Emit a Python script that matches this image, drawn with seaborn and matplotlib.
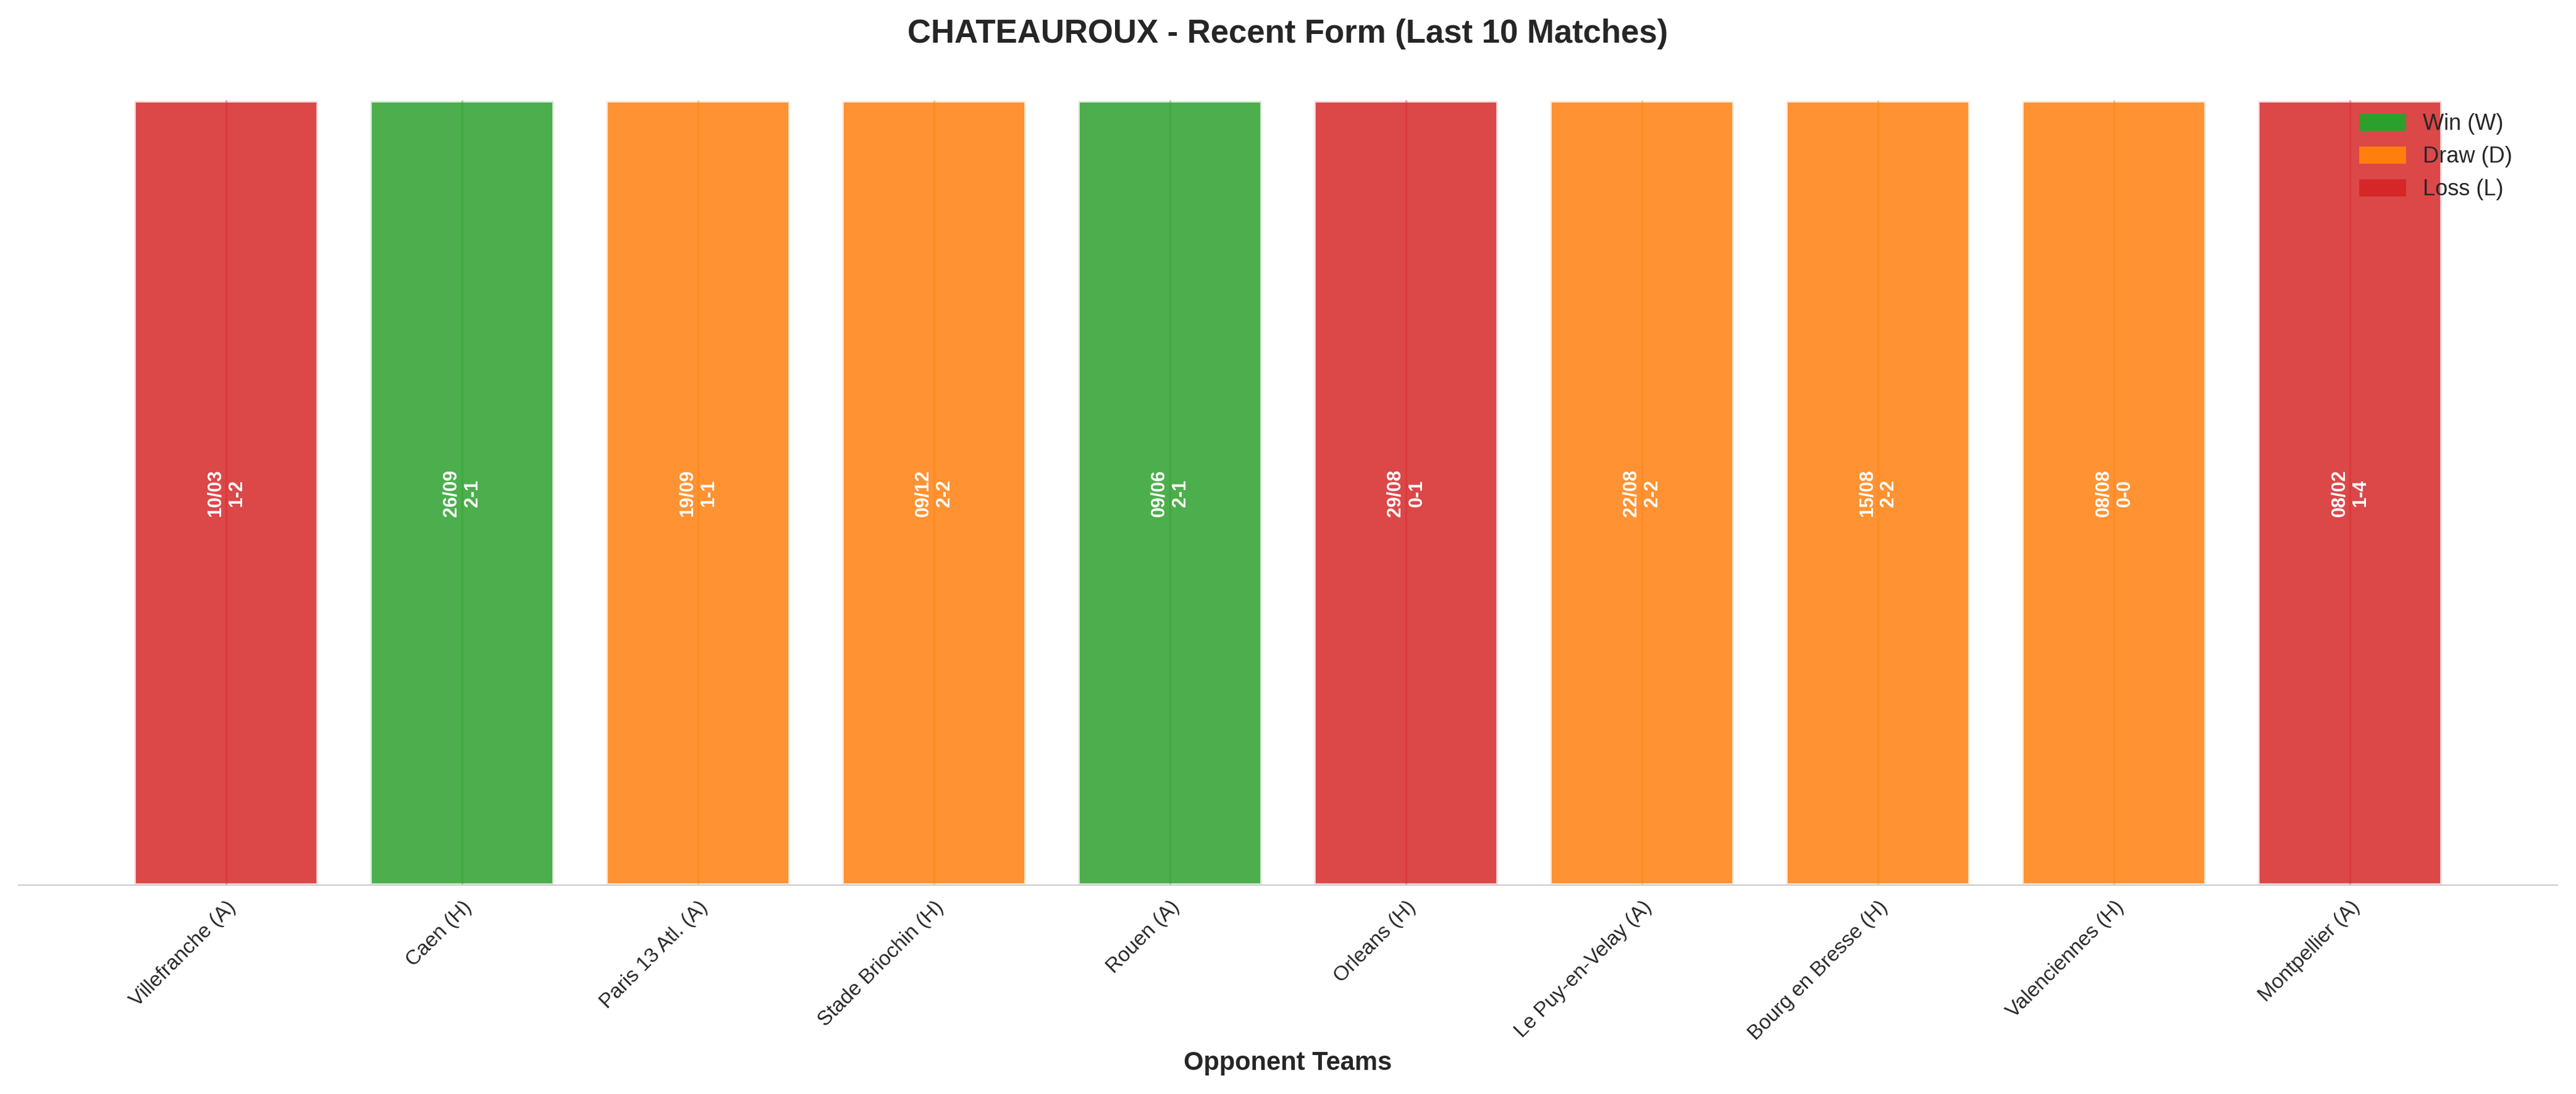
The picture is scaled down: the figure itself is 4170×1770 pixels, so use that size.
import pandas as pd
import seaborn as sns
import matplotlib.pyplot as plt

opponents = ["Villefranche (A)", "Caen (H)", "Paris 13 Atl. (A)", "Stade Briochin (H)", "Rouen (A)",
             "Orleans (H)", "Le Puy-en-Velay (A)", "Bourg en Bresse (H)", "Valenciennes (H)", "Montpellier (A)"]
results = ["L", "W", "D", "D", "W", "L", "D", "D", "D", "L"]
dates = ["10/03", "26/09", "19/09", "09/12", "09/06", "29/08", "22/08", "15/08", "08/08", "08/02"]
scores = ["1-2", "2-1", "1-1", "2-2", "2-1", "0-1", "2-2", "2-2", "0-0", "1-4"]
heights = [1] * 10

colors = {"W": "#2ca02c", "D": "#ff7f0e", "L": "#d62728"}
labels = {"W": "Win (W)", "D": "Draw (D)", "L": "Loss (L)"}

df = pd.DataFrame({"opponent": opponents, "result": results, "h": heights})

sns.set_style("white")
plt.rcParams['font.family'] = ['Arial', 'Liberation Sans', 'DejaVu Sans']

fig, ax = plt.subplots(figsize=(20.85, 8.85), dpi=200)
sns.barplot(data=df, x="opponent", y="h", hue="result", palette=colors, dodge=False, saturation=1,
            alpha=0.85, edgecolor="white", linewidth=2, ax=ax, legend=False, width=0.78)

bars = [p for p in ax.patches if p.get_height() > 0]
bars.sort(key=lambda p: p.get_x())
for p, r, d, s in zip(bars, results, dates, scores):
    cx = p.get_x() + p.get_width() / 2
    ax.plot([cx, cx], [0, p.get_height()], color=colors[r], lw=1.2, alpha=0.35)
    ax.text(cx, p.get_height() / 2, f"{d}\n{s}", rotation=90, ha="center", va="center",
            color="white", fontsize=11, fontweight="bold")

handles = [plt.Rectangle((0, 0), 1, 1, color=colors[k]) for k in ["W", "D", "L"]]
ax.legend(handles, [labels[k] for k in ["W", "D", "L"]], loc="upper right", frameon=False,
          fontsize=13, bbox_to_anchor=(0.99, 0.98))

ax.set_ylim(0, 1.03)
ax.set_yticks([])
ax.set_ylabel("")
ax.set_xlabel("Opponent Teams", fontsize=15, fontweight="bold")
ax.set_title("CHATEAUROUX - Recent Form (Last 10 Matches)", fontsize=19, fontweight="bold", pad=20)
plt.setp(ax.get_xticklabels(), rotation=45, ha="right", rotation_mode="anchor", fontsize=12)
for side in ["top", "right", "left"]:
    ax.spines[side].set_visible(False)
ax.spines["bottom"].set_color("#cccccc")
plt.tight_layout()
plt.savefig("out.png")
